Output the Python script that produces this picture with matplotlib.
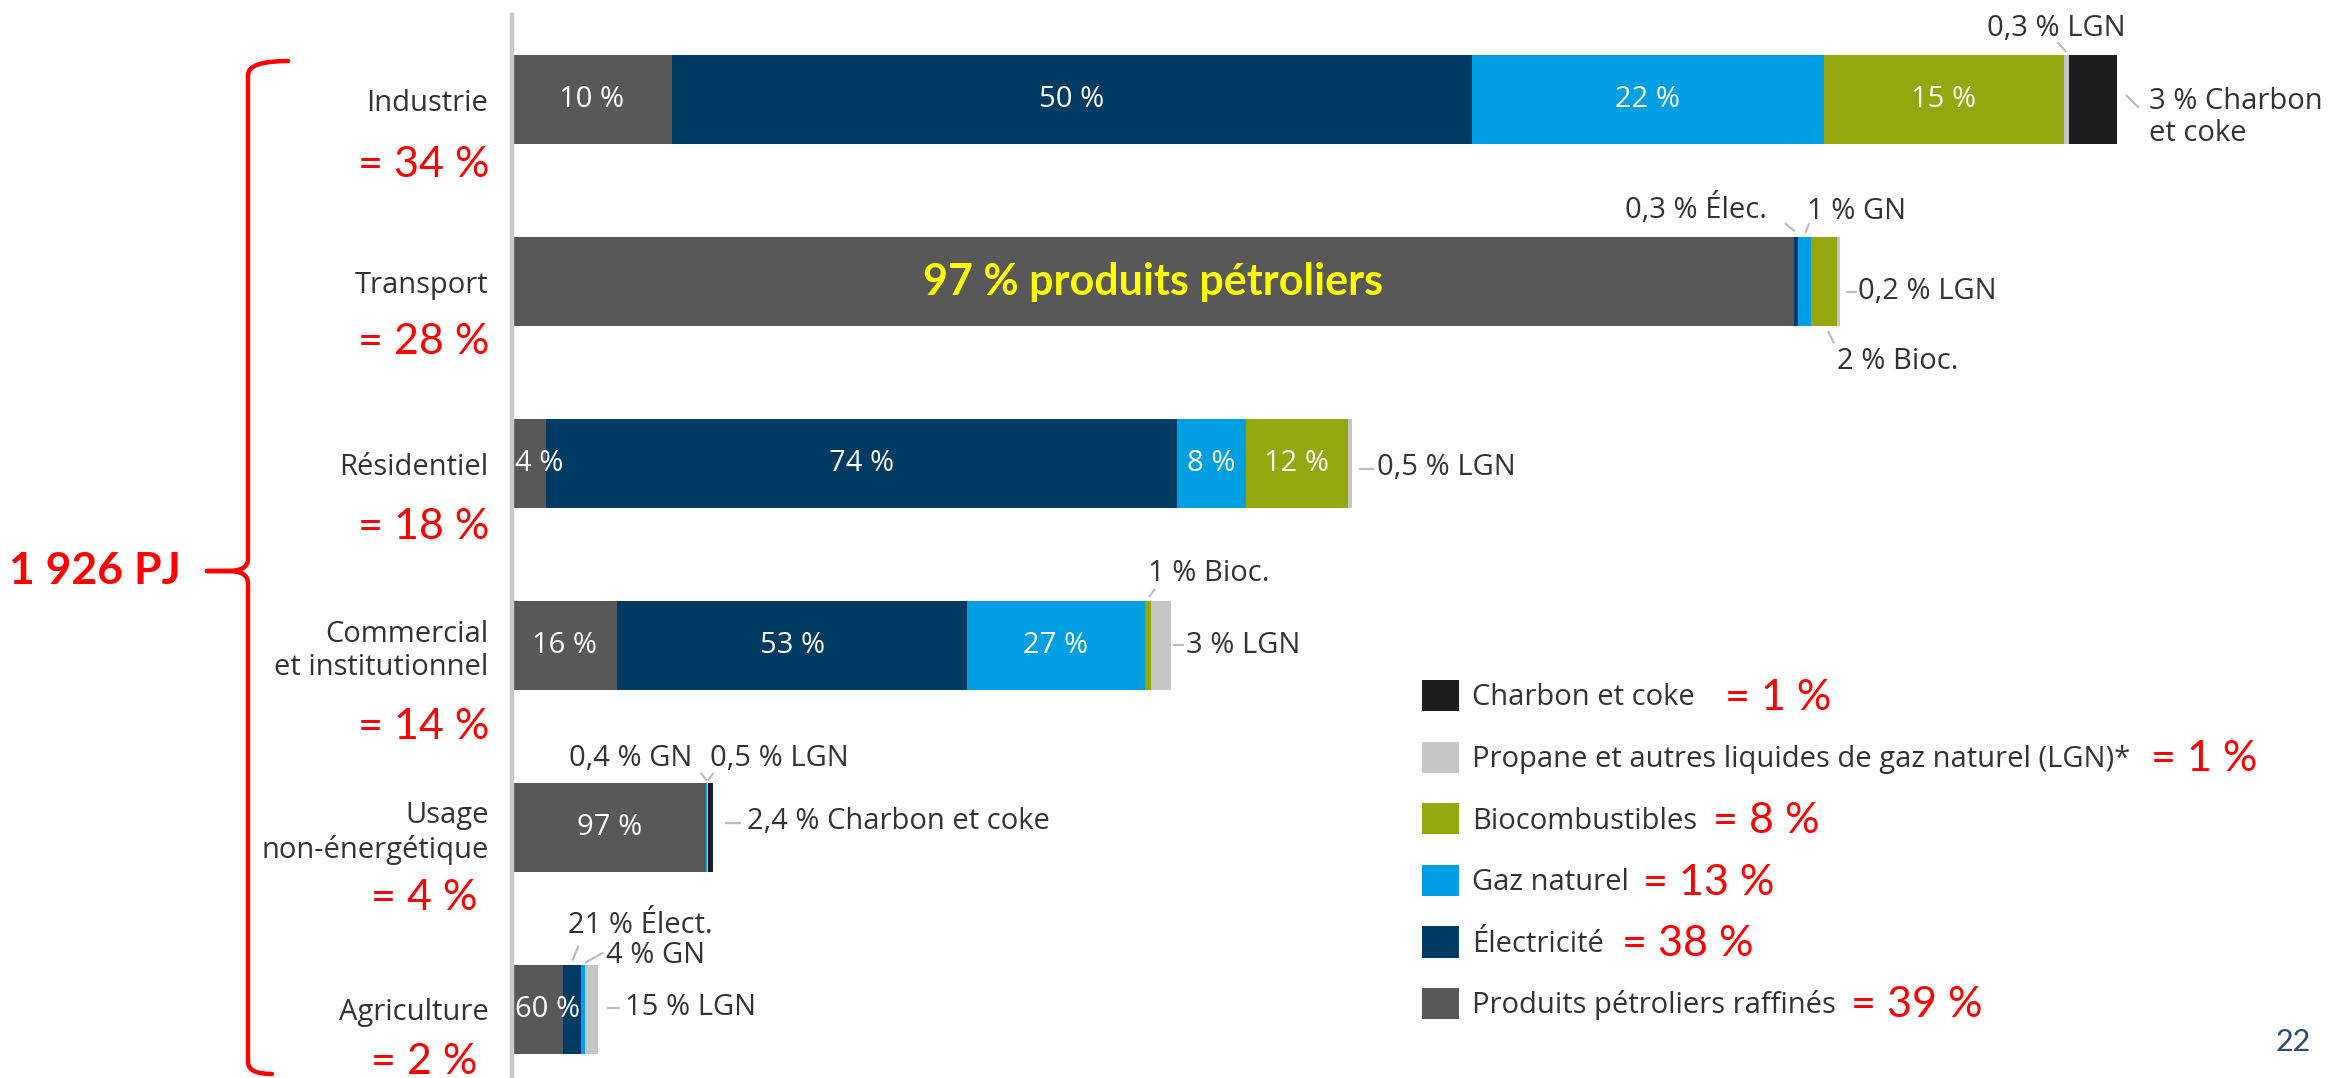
import matplotlib
matplotlib.use('Agg')
import matplotlib.pyplot as plt
import matplotlib.transforms as mtransforms
from matplotlib.path import Path
from matplotlib.patches import PathPatch
import numpy as np

# -- DATA --
sectors = ['Industrie', 'Transport', 'Résidentiel', 'Commercial\net institutionnel',
           'Usage\nnon-énergétique', 'Agriculture']
sector_pj = [655, 542, 343, 269, 82, 35]          # bar lengths (PJ), total 1 926 PJ
sector_share = ['= 34 %', '= 28 %', '= 18 %', '= 14 %', '= 4 %', '= 2 %']
total_label = '1 926 PJ'

fuels = ['Produits pétroliers raffinés', 'Électricité', 'Gaz naturel', 'Biocombustibles',
         'Propane et autres liquides de gaz naturel (LGN)*', 'Charbon et coke']
fuel_total = ['= 39 %', '= 38 %', '= 13 %', '= 8 %', '= 1 %', '= 1 %']

# share of each sector (%), same order as sectors
petrole = [10, 97, 4, 16, 97, 60]
electricite = [50, 0.3, 74, 53, 0, 21]
gaz_naturel = [22, 1, 8, 27, 0.4, 4]
biocomb = [15, 2, 12, 1, 0, 0]
lgn = [0.3, 0.2, 0.5, 3, 0.5, 15]
charbon = [3, 0, 0, 0, 2.4, 0]

inside_labels = [
    ['10 %', '50 %', '22 %', '15 %', '', ''],
    ['97 % produits pétroliers', '', '', '', '', ''],
    ['4 %', '74 %', '8 %', '12 %', '', ''],
    ['16 %', '53 %', '27 %', '', '', ''],
    ['97 %', '', '', '', '', ''],
    ['60 %', '', '', '', '', ''],
]

# -- STYLE --
colors = ['#585858', '#003B64', '#009FE3', '#94A70F', '#C6C6C6', '#1D1D1B']
GREY_TXT = '#333333'
LEADER = '#BDBDBD'
plt.rcParams['font.family'] = ['Open Sans', 'DejaVu Sans']

W, H = 2335, 1078
fig = plt.figure(figsize=(W / 100, H / 100), dpi=100)
ax = fig.add_axes([512 / W, 0, 1 - 512 / W, 1 - 15 / H])

shares = np.array([petrole, electricite, gaz_naturel, biocomb, lgn, charbon], dtype=float)
pj = shares / shares.sum(axis=0) * np.array(sector_pj)
ypos = np.arange(len(sectors))
bar_h = 0.49

left = np.zeros(len(sectors))
bars = []
starts = []
for k, fuel in enumerate(fuels):
    b = ax.barh(ypos, pj[k], left=left, height=bar_h, color=colors[k],
                linewidth=0, label=fuel)
    bars.append(b)
    starts.append(left.copy())
    left = left + pj[k]
starts = np.array(starts)

ax.set_xlim(0, (W - 512) / 2.45)
ax.set_ylim(5.378, -0.466)
for s in ['top', 'right', 'bottom']:
    ax.spines[s].set_visible(False)
ax.spines['left'].set_color('#C9C9C9')
ax.spines['left'].set_linewidth(3.2)
ax.set_xticks([])
ax.set_yticks(ypos, sectors)
ax.tick_params(axis='y', length=0, pad=17, labelsize=21, labelcolor=GREY_TXT)

# labels inside the bars
for i in range(len(sectors)):
    for k in range(len(fuels)):
        lab = inside_labels[i][k]
        if not lab:
            continue
        x0, w = starts[k, i], pj[k, i]
        if i == 1:
            ax.text(x0 + w / 2, i, lab, color='#FFFF00', fontsize=31, family='Lato',
                    fontweight='bold', ha='center', va='center')
        elif (i, k) in [(2, 0), (5, 0)]:
            ax.annotate(lab, (x0, i), xytext=(3, 0), textcoords='offset pixels',
                        color='white', fontsize=21, ha='left', va='center')
        else:
            ax.text(x0 + w / 2, i, lab, color='white', fontsize=21,
                    ha='center', va='center')

# callouts for the thin segments: offsets in pixels, y downwards
callouts = [
    (0, 4, 'top', (0, -3, -9, -13), '0,3 % LGN', (-10, -27), 'center'),
    (0, 5, 'end', (9, -5, 22, 8), '3 % Charbon\net coke', (32, 18), 'left'),
    (1, 1, 'top', (-1, -6, -11, -14), '0,3 % Élec.', (-29, -28), 'right'),
    (1, 2, 'top', (1, -4, 5, -14), '1 % GN', (3, -26), 'left'),
    (1, 4, 'end', (6, 10, 17, 10), '0,2 % LGN', (18, 10), 'left'),
    (1, 3, 'bottom', (4, 5, 10, 17), '2 % Bioc.', (13, 35), 'left'),
    (2, 4, 'end', (7, 5, 22, 5), '0,5 % LGN', (25, 4), 'left'),
    (3, 3, 'top', (1, -4, 7, -12), '1 % Bioc.', (0, -27), 'left'),
    (3, 4, 'end', (2, 0, 13, 0), '3 % LGN', (15, 0), 'left'),
    (4, 2, 'top', (0, -2, -6, -10), '0,4 % GN', (-14, -24), 'right'),
    (4, 4, 'top', (0, -2, 6, -10), '0,5 % LGN', (2, -24), 'left'),
    (4, 5, 'end', (12, -4, 28, -4), '2,4 % Charbon et coke', (34, -6), 'left'),
    (5, 1, 'top', (0, -4, 6, -19), '21 % Élect.', (-4, -39), 'left'),
    (5, 2, 'top', (2, -2, 20, -12), '4 % GN', (23, -9), 'left'),
    (5, 4, 'end', (9, -1, 22, -1), '15 % LGN', (27, -2), 'left'),
]
for i, k, where, (lx0, ly0, lx1, ly1), lab, (tx, ty), ha in callouts:
    if where == 'end':
        axx, axy = left[i], i
    else:
        axx = starts[k, i] + pj[k, i] / 2
        axy = i - bar_h / 2 if where == 'top' else i + bar_h / 2
    trans = (mtransforms.Affine2D().scale(1, -1)
             + mtransforms.ScaledTranslation(axx, axy, ax.transData))
    ax.plot([lx0, lx1], [ly0, ly1], color=LEADER, lw=1.6, transform=trans,
            clip_on=False, solid_capstyle='butt')
    ax.text(tx, ty, lab, transform=trans, color=GREY_TXT, fontsize=21,
            ha=ha, va='center', linespacing=1.15)

# red shares under the sector names
share_dy = [0.36, 0.33, 0.35, 0.45, 0.39, 0.29]
for i, s in enumerate(sector_share):
    ax.text(-36, i + share_dy[i], s, color='red', fontsize=31, family='Lato',
            ha='center', va='center')

# legend with red totals
leg = ax.legend(bars[::-1], fuels[::-1], loc='upper left',
                bbox_to_anchor=(1422 / W, 1 - 680 / H), bbox_transform=fig.transFigure,
                frameon=False, fontsize=21, handlelength=1.27, handleheight=1.27,
                handletextpad=0.45, labelspacing=1.0, borderpad=0, borderaxespad=0,
                labelcolor=GREY_TXT)
gaps = [30, 21, 16, 14, 18, 15]
for txt, extra, gap in zip(leg.get_texts(), fuel_total[::-1], gaps):
    ax.annotate(extra, xy=(1, 0.5), xycoords=txt, xytext=(gap, 0),
                textcoords='offset pixels', color='red', fontsize=31,
                family='Lato', va='center', zorder=6)

# red brace and total
px = mtransforms.Affine2D().scale(1 / W, -1 / H).translate(0, 1) + fig.transFigure
bx, tip_x = 248, 207
top, mid, bot = 61, 571, 1074
verts = [(288, top), (bx, top), (bx, top + 14),
         (bx, mid - 12), (bx, mid), (bx - 20, mid),
         (tip_x, mid), (bx - 20, mid), (bx, mid), (bx, mid + 12),
         (bx, bot - 12), (bx, bot), (272, bot)]
codes = [Path.MOVETO, Path.CURVE3, Path.CURVE3,
         Path.LINETO, Path.CURVE3, Path.CURVE3,
         Path.LINETO, Path.LINETO, Path.CURVE3, Path.CURVE3,
         Path.LINETO, Path.CURVE3, Path.CURVE3]
fig.add_artist(PathPatch(Path(verts, codes), transform=px, fill=False,
                         ec='red', lw=3.2, capstyle='round', joinstyle='round'))
fig.text(95 / W, 1 - 571 / H, total_label, color='red', fontsize=32, family='Lato',
         fontweight='bold', ha='center', va='center')

fig.text(2293 / W, 1 - 1042 / H, '22', color='#2F4A6D', fontsize=22, family='Lato',
         ha='center', va='center')

fig.savefig('out.png', dpi=100)
